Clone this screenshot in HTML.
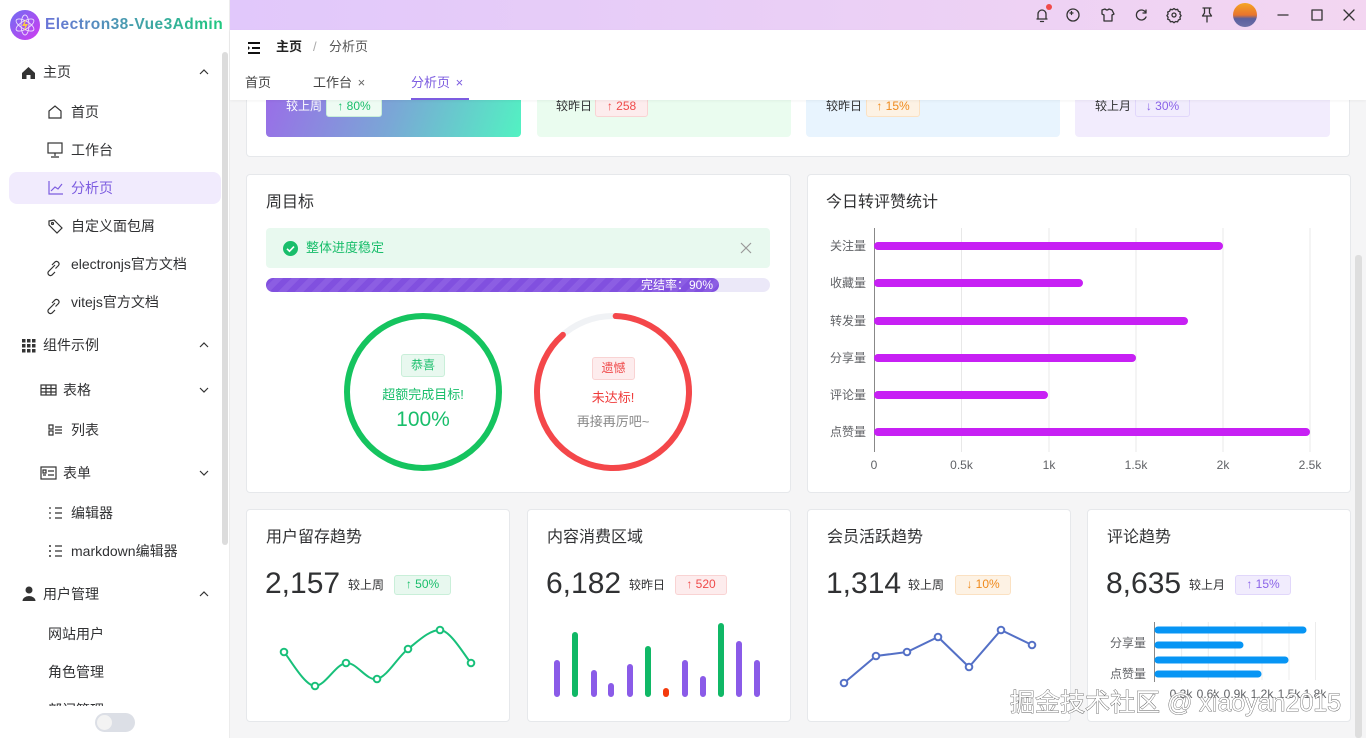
<!DOCTYPE html>
<html><head><meta charset="utf-8">
<style>
*{margin:0;padding:0;box-sizing:border-box}
body{width:1366px;height:738px;overflow:hidden;position:relative;background:#f5f5f6;font-family:"Liberation Sans","Noto Sans CJK SC",sans-serif;color:#303133}
.a{position:absolute;white-space:nowrap}
.side{position:absolute;left:0;top:0;width:230px;height:738px;background:#fff;border-right:1px solid #ececec}
.mi{position:absolute;font-size:14px;line-height:20px;color:#303133}
.tag{position:absolute;font-size:12px;line-height:17px;border-radius:3px;text-align:center;border:1px solid}
.card{position:absolute;background:#fff;border:1px solid #e6e8eb;border-radius:4px}
.ct{position:absolute;font-size:16px;line-height:22px;color:#303133}
.big{position:absolute;font-size:30px;line-height:36px;color:#303133}
.small{position:absolute;font-size:12px;line-height:16px;color:#303133}
.g{color:#19be6b;background:#e8f8ef;border-color:#c9efd9}
.r{color:#ef4a4a;background:#fdeced;border-color:#f9d3d3}
.o{color:#ef8a1c;background:#fdf2e4;border-color:#fbe1c2}
.p{color:#8a63e8;background:#f1ecfd;border-color:#e1d7fb}
</style></head><body>

<!-- top gradient bar -->
<div class="a" style="left:230px;top:0;width:1136px;height:30px;background:linear-gradient(90deg,#e1c8fb,#f3d6f1)"></div>
<!-- top icons -->
<svg class="a" style="left:1000px;top:0" width="366" height="30" viewBox="1000 0 366 30">
 <g fill="none" stroke="#333" stroke-width="1.3" stroke-linecap="round" stroke-linejoin="round">
  <path d="M1037 19 h10 M1038 19 v-5 a4 4 0 0 1 8 0 v5 M1040.5 21.5 h3"/>
  <circle cx="1073" cy="15" r="6"/><path d="M1070 13h3M1071.5 11.5v3"/>
  <path d="M1102 10 l3 -1 q2 2 4 0 l3 1 l2 4 -2 1 v6 h-8 v-6 l-2 -1z"/>
  <path d="M1146 13 a5 5 0 1 0 0 4 M1146 10 v3 h-3"/>
  <circle cx="1174" cy="15" r="2"/><path d="M1174 8.5 l1.6 1.2 2 -0.4 0.8 1.9 1.9 0.8 -0.4 2 1.2 1.6 -1.2 1.6 0.4 2 -1.9 0.8 -0.8 1.9 -2 -0.4 -1.6 1.2 -1.6 -1.2 -2 0.4 -0.8 -1.9 -1.9 -0.8 0.4 -2 -1.2 -1.6 1.2 -1.6 -0.4 -2 1.9 -0.8 0.8 -1.9 2 0.4z"/>
  <path d="M1203 8 h8 M1204.5 8 v5 l-2 3 h9 l-2 -3 v-5 M1207 16 v6"/>
  <path d="M1278 15 h10"/>
  <rect x="1312" y="10" width="10" height="10"/>
  <path d="M1344 10 l10 10 M1354 10 l-10 10"/>
 </g>
 <circle cx="1049" cy="7" r="3" fill="#f04a4a"/>
 <defs><linearGradient id="av" x1="0" y1="0" x2="0" y2="1"><stop offset="0" stop-color="#f5a623"/><stop offset=".5" stop-color="#e9742e"/><stop offset=".65" stop-color="#5b5f9e"/><stop offset="1" stop-color="#6c6fa8"/></linearGradient></defs>
 <circle cx="1245" cy="15" r="12" fill="url(#av)"/>
</svg>

<!-- header white -->
<div class="a" style="left:230px;top:30px;width:1136px;height:70px;background:#fff;box-shadow:0 1px 3px rgba(0,0,0,.05);z-index:5">
 <svg class="a" style="left:17px;top:12px" width="14" height="12"><path d="M1 1h12M5 6h8M1 11h12" stroke="#111" stroke-width="2"/><path d="M1 4l2 2-2 2z" fill="#111"/></svg>
 <div class="a" style="left:46px;top:8px;font-size:13px;line-height:18px;font-weight:bold;color:#222">主页</div>
 <div class="a" style="left:83px;top:8px;font-size:13px;line-height:18px;color:#aaa">/</div>
 <div class="a" style="left:99px;top:8px;font-size:13px;line-height:18px;color:#555">分析页</div>
 <div class="a" style="left:15px;top:44px;font-size:13px;line-height:18px;color:#444">首页</div>
 <div class="a" style="left:83px;top:44px;font-size:13px;line-height:18px;color:#444">工作台 <span style="color:#666;margin-left:2px">×</span></div>
 <div class="a" style="left:181px;top:44px;font-size:13px;line-height:18px;color:#7c5ce0">分析页 <span style="margin-left:2px">×</span></div>
 <div class="a" style="left:181px;top:68px;width:58px;height:2px;background:#7c5ce0"></div>
</div>

<!-- sidebar -->
<div class="side">
 <svg class="a" style="left:10px;top:10px" width="30" height="30"><defs><linearGradient id="lg" x1="0" y1="0" x2="1" y2="1"><stop offset="0" stop-color="#6f6ef3"/><stop offset="1" stop-color="#d13af0"/></linearGradient></defs><circle cx="15" cy="15" r="15" fill="url(#lg)"/><g fill="none" stroke="#fff" stroke-width=".9" opacity=".8"><ellipse cx="15" cy="15" rx="10" ry="4" transform="rotate(30 15 15)"/><ellipse cx="15" cy="15" rx="10" ry="4" transform="rotate(-30 15 15)"/><ellipse cx="15" cy="15" rx="4" ry="10"/></g><path d="M16 9l-4 7h3l-1 5 4-7h-3z" fill="#f7c948"/></svg>
 <div class="a" style="left:45px;top:15px;font-size:15.5px;line-height:20px;font-weight:bold;letter-spacing:0.45px;background:linear-gradient(90deg,#6a74d8,#1fc97f);-webkit-background-clip:text;background-clip:text;color:transparent">Electron38-Vue3Admin</div>
 <div class="a" style="left:222px;top:52px;width:6px;height:493px;background:#dcdcdc;border-radius:3px"></div>
 <div class="a" style="left:9px;top:172px;width:212px;height:32px;background:#f1ebfd;border-radius:8px"></div>

 <svg class="a" style="left:0;top:0" width="230" height="738">
  <g fill="#333"><path d="M22 73l6.5-6 6.5 6v6h-4.5v-4h-4v4H22z"/></g>
  <g fill="none" stroke="#333" stroke-width="1.2">
   <path d="M200 74l4-4 4 4M200 347l4-4 4 4M200 596l4-4 4 4M200 388l4 4 4-4M200 471l4 4 4-4"/>
   <path d="M49 118v-7l6-5 6 5v7z"/>
   <rect x="48" y="143" width="14" height="10"/><path d="M55 153v3M51 157h8"/>
   <path d="M49 181v13h14" stroke="#7c5ce0"/><path d="M51 191l4-4 3 2 4-5" stroke="#7c5ce0"/>
   <path d="M49 221l5-1 8 8-5 5-8-8z"/><circle cx="52.5" cy="223.5" r="1"/>
   <path d="M50 270l5-5M52 265l3-3a2.5 2.5 0 0 1 3.5 3.5l-3 3M55 272l-3 3a2.5 2.5 0 0 1-3.5-3.5l3-3"/>
   <path d="M50 308l5-5M52 303l3-3a2.5 2.5 0 0 1 3.5 3.5l-3 3M55 310l-3 3a2.5 2.5 0 0 1-3.5-3.5l3-3"/>
   <rect x="41" y="385" width="15" height="10"/><path d="M41 388.5h15M41 392h15M46 385v10M51 385v10"/>
   <path d="M49 425h4v4h-4zM49 431h4v4h-4zM55 427h7M55 430h7M55 433h7"/>
   <rect x="41" y="467" width="15" height="12"/><path d="M43 470h3v3h-3zM48 471h6M43 475h3M48 475h6"/>
   <path d="M55 508h7M55 513h7M55 518h7M50 507v2M50 512v2M50 517v2"/>
   <path d="M55 546h7M55 551h7M55 556h7"/>
  </g>
  <g fill="#333"><circle cx="50" cy="546" r="1"/><circle cx="50" cy="551" r="1"/><circle cx="50" cy="556" r="1"/>
   <rect x="22" y="339" width="3.5" height="3.5"/><rect x="27" y="339" width="3.5" height="3.5"/><rect x="32" y="339" width="3.5" height="3.5"/>
   <rect x="22" y="344" width="3.5" height="3.5"/><rect x="27" y="344" width="3.5" height="3.5"/><rect x="32" y="344" width="3.5" height="3.5"/>
   <rect x="22" y="349" width="3.5" height="3.5"/><rect x="27" y="349" width="3.5" height="3.5"/><rect x="32" y="349" width="3.5" height="3.5"/>
   <circle cx="29" cy="590" r="3.5"/><path d="M22.5 601a6.5 5 0 0 1 13 0z"/></g>
 </svg>
 <div class="mi" style="left:43px;top:62px">主页</div>
 <div class="mi" style="left:71px;top:102px">首页</div>
 <div class="mi" style="left:71px;top:140px">工作台</div>
 <div class="mi" style="left:71px;top:178px;color:#7c5ce0">分析页</div>
 <div class="mi" style="left:71px;top:216px">自定义面包屑</div>
 <div class="mi" style="left:71px;top:254px">electronjs官方文档</div>
 <div class="mi" style="left:71px;top:292px">vitejs官方文档</div>
 <div class="mi" style="left:43px;top:335px">组件示例</div>
 <div class="mi" style="left:63px;top:380px">表格</div>
 <div class="mi" style="left:71px;top:420px">列表</div>
 <div class="mi" style="left:63px;top:463px">表单</div>
 <div class="mi" style="left:71px;top:503px">编辑器</div>
 <div class="mi" style="left:71px;top:541px">markdown编辑器</div>
 <div class="mi" style="left:43px;top:584px">用户管理</div>
 <div class="mi" style="left:48px;top:624px">网站用户</div>
 <div class="mi" style="left:48px;top:662px">角色管理</div>
 <div class="mi" style="left:48px;top:700px;height:8px;overflow:hidden">部门管理</div>
 <div class="a" style="left:0;top:706px;width:221px;height:32px;background:#fff"></div>
 <div class="a" style="left:95px;top:713px;width:40px;height:19px;border-radius:10px;background:#dcdfe6"></div>
 <div class="a" style="left:97px;top:715px;width:15px;height:15px;border-radius:50%;background:#f3f3f3"></div>
</div>

<!-- main scrollbar -->
<div class="a" style="left:1355px;top:255px;width:7px;height:483px;background:#dedede;border-radius:3px"></div>

<!-- top stat card (scrolled) -->
<div class="card" style="left:246px;top:60px;width:1104px;height:97px"></div>
<div class="a" style="left:266px;top:90px;width:255px;height:47px;border-radius:4px;background:linear-gradient(110deg,#9a6de8,#7aa7d6 50%,#52f2c2)"></div>
<div class="a" style="left:537px;top:90px;width:254px;height:47px;border-radius:4px;background:#eafcef"></div>
<div class="a" style="left:806px;top:90px;width:254px;height:47px;border-radius:4px;background:#e8f4fe"></div>
<div class="a" style="left:1075px;top:90px;width:255px;height:47px;border-radius:4px;background:#f2ecfd"></div>
<div class="small" style="left:286px;top:98px;color:#fff">较上周</div>
<div class="tag g" style="left:326px;top:97px;width:56px;height:20px;background:#eefbf3">↑ 80%</div>
<div class="small" style="left:556px;top:98px">较昨日</div>
<div class="tag r" style="left:595px;top:97px;width:53px;height:20px">↑ 258</div>
<div class="small" style="left:826px;top:98px">较昨日</div>
<div class="tag o" style="left:866px;top:97px;width:54px;height:20px">↑ 15%</div>
<div class="small" style="left:1095px;top:98px">较上月</div>
<div class="tag p" style="left:1135px;top:97px;width:55px;height:20px">↓ 30%</div>

<!-- 周目标 -->
<div class="card" style="left:246px;top:174px;width:545px;height:319px"></div>
<div class="ct" style="left:266px;top:192px">周目标</div>
<div class="a" style="left:266px;top:228px;width:504px;height:40px;background:#e8f9ef;border-radius:4px"></div>
<svg class="a" style="left:283px;top:241px" width="15" height="15"><circle cx="7.5" cy="7.5" r="7.5" fill="#19be6b"/><path d="M4 7.8l2.5 2.4 4.5-4.6" fill="none" stroke="#fff" stroke-width="1.6"/></svg>
<div class="a" style="left:306px;top:239px;font-size:13px;line-height:18px;color:#19be6b">整体进度稳定</div>
<svg class="a" style="left:740px;top:242px" width="12" height="12"><path d="M1 1l10 10M11 1L1 11" stroke="#999" stroke-width="1.2"/></svg>
<div class="a" style="left:266px;top:278px;width:504px;height:14px;background:#ebe8f8;border-radius:7px"></div>
<div class="a" style="left:266px;top:278px;width:453px;height:14px;border-radius:7px;background:repeating-linear-gradient(-45deg,#8150df 0 6px,#8c5ee3 6px 12px)"></div>
<div class="a" style="left:641px;top:278px;font-size:12px;line-height:14px;color:#fff">完结率：90%</div>
<svg class="a" style="left:330px;top:300px" width="380" height="190" viewBox="330 300 380 190">
 <circle cx="423" cy="392" r="76" fill="none" stroke="#15c45f" stroke-width="6"/>
 <circle cx="613" cy="392" r="76" fill="none" stroke="#f0f2f5" stroke-width="6"/>
 <circle cx="613" cy="392" r="76" fill="none" stroke="#f4474a" stroke-width="6" stroke-linecap="round" stroke-dasharray="420 100" transform="rotate(-88 613 392)"/>
</svg>
<div class="tag g" style="left:401px;top:354px;width:44px;height:23px;line-height:21px;font-size:12px">恭喜</div>
<div class="a" style="left:378px;top:386px;width:90px;text-align:center;font-size:13px;line-height:18px;color:#19be6b">超额完成目标!</div>
<div class="a" style="left:373px;top:407px;width:100px;text-align:center;font-size:21px;line-height:26px;color:#19be6b">100%</div>
<div class="tag r" style="left:592px;top:357px;width:43px;height:23px;line-height:21px;font-size:12px">遗憾</div>
<div class="a" style="left:573px;top:389px;width:80px;text-align:center;font-size:13px;line-height:18px;color:#ef3c3c">未达标!</div>
<div class="a" style="left:563px;top:413px;width:100px;text-align:center;font-size:13px;line-height:18px;color:#888">再接再厉吧~</div>

<!-- 今日转评赞统计 -->
<div class="card" style="left:807px;top:174px;width:544px;height:319px"></div>
<div class="ct" style="left:826px;top:192px">今日转评赞统计</div>
<svg class="a" style="left:807px;top:174px" width="544" height="319" viewBox="807 174 544 319" font-family="Liberation Sans,Noto Sans CJK SC,sans-serif" font-size="12" fill="#606266">
 <g stroke="#e8e8e8" stroke-width="1">
  <path d="M961.5 228v224M1049 228v224M1136 228v224M1223 228v224M1310 228v224"/>
 </g>
 <path d="M874.5 228v224" stroke="#888"/>
 <g stroke="#c720f4" stroke-width="8" stroke-linecap="round">
  <path d="M878 246H1219M878 283H1079M878 321H1184M878 358H1132M878 395H1044M878 432H1306"/>
 </g>
 <g text-anchor="end">
  <text x="866" y="250">关注量</text><text x="866" y="287">收藏量</text><text x="866" y="325">转发量</text>
  <text x="866" y="362">分享量</text><text x="866" y="399">评论量</text><text x="866" y="436">点赞量</text>
 </g>
 <g text-anchor="middle">
  <text x="874" y="469">0</text><text x="961.5" y="469">0.5k</text><text x="1049" y="469">1k</text>
  <text x="1136" y="469">1.5k</text><text x="1223" y="469">2k</text><text x="1310" y="469">2.5k</text>
 </g>
</svg>

<!-- bottom row -->
<div class="card" style="left:246px;top:509px;width:264px;height:213px"></div>
<div class="card" style="left:527px;top:509px;width:264px;height:213px"></div>
<div class="card" style="left:807px;top:509px;width:264px;height:213px"></div>
<div class="card" style="left:1087px;top:509px;width:264px;height:213px"></div>

<div class="ct" style="left:266px;top:527px">用户留存趋势</div>
<div class="big" style="left:265px;top:566px">2,157</div>
<div class="small" style="left:348px;top:577px">较上周</div>
<div class="tag g" style="left:394px;top:575px;width:57px;height:20px">↑ 50%</div>

<div class="ct" style="left:547px;top:527px">内容消费区域</div>
<div class="big" style="left:546px;top:566px">6,182</div>
<div class="small" style="left:629px;top:577px">较昨日</div>
<div class="tag r" style="left:675px;top:575px;width:52px;height:20px">↑ 520</div>

<div class="ct" style="left:827px;top:527px">会员活跃趋势</div>
<div class="big" style="left:826px;top:566px">1,314</div>
<div class="small" style="left:908px;top:577px">较上周</div>
<div class="tag o" style="left:955px;top:575px;width:56px;height:20px">↓ 10%</div>

<div class="ct" style="left:1107px;top:527px">评论趋势</div>
<div class="big" style="left:1106px;top:566px">8,635</div>
<div class="small" style="left:1189px;top:577px">较上月</div>
<div class="tag p" style="left:1235px;top:575px;width:56px;height:20px">↑ 15%</div>

<svg class="a" style="left:0;top:0" width="1366" height="738" font-family="Liberation Sans,Noto Sans CJK SC,sans-serif">
 <path d="M284 652C289.2 657.7 304.7 686 315 686C325.3 686 335.7 664.2 346 663C356.3 661.8 366.7 681.3 377 679C387.3 676.7 397.5 657.2 408 649C418.5 640.8 429.5 630 440 630C450.5 630 465.8 657.5 471 663" fill="none" stroke="#18c07a" stroke-width="2"/>
 <g fill="#fff" stroke="#18c07a" stroke-width="2">
  <circle cx="284" cy="652" r="3.3"/><circle cx="315" cy="686" r="3.3"/><circle cx="346" cy="663" r="3.3"/><circle cx="377" cy="679" r="3.3"/><circle cx="408" cy="649" r="3.3"/><circle cx="440" cy="630" r="3.3"/><circle cx="471" cy="663" r="3.3"/>
 </g>
 <g stroke-width="6" stroke-linecap="round">
  <path d="M557 663V694M594 673V694M611 686V694M630 667V694M685 663V694M703 679V694M739 644V694M757 663V694" stroke="#8a5be8"/>
  <path d="M575 635V694M648 649V694M721 626V694" stroke="#10b866"/>
  <path d="M666 691V694" stroke="#f43a0c"/>
 </g>
 <path d="M844 683L876 656L907 652L938 637L969 667L1001 630L1032 645" fill="none" stroke="#5470c6" stroke-width="2"/>
 <g fill="#fff" stroke="#5470c6" stroke-width="2">
  <circle cx="844" cy="683" r="3.3"/><circle cx="876" cy="656" r="3.3"/><circle cx="907" cy="652" r="3.3"/><circle cx="938" cy="637" r="3.3"/><circle cx="969" cy="667" r="3.3"/><circle cx="1001" cy="630" r="3.3"/><circle cx="1032" cy="645" r="3.3"/>
 </g>
 <g stroke="#ececec"><path d="M1181.6 622v58M1208.3 622v58M1235 622v58M1262 622v58M1289 622v58M1315.5 622v58"/></g>
 <path d="M1154.5 622v60" stroke="#888"/>
 <g stroke="#0795f4" stroke-width="7" stroke-linecap="round">
  <path d="M1158 630H1303M1158 645H1240M1158 660H1285M1158 674H1258"/>
 </g>
 <g font-size="12" fill="#606266" text-anchor="end"><text x="1146" y="647">分享量</text><text x="1146" y="678">点赞量</text></g>
 <g font-size="12" fill="#606266" text-anchor="middle"><text x="1181" y="698">0.3k</text><text x="1208" y="698">0.6k</text><text x="1235" y="698">0.9k</text><text x="1262" y="698">1.2k</text><text x="1289" y="698">1.5k</text><text x="1315" y="698">1.8k</text></g>
 <text x="1010" y="711" font-size="25" fill="#fff" stroke="#555" stroke-width=".8" style="paint-order:stroke">掘金技术社区 @ xiaoyan2015</text>
</svg>

</body></html>
